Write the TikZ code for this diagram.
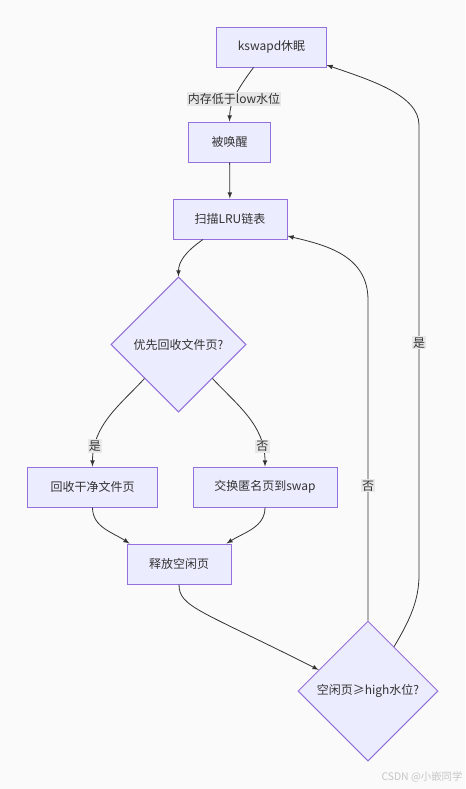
\documentclass[tikz,border=0pt]{standalone}
\usepackage{fontspec}
\setmainfont{Noto Sans CJK SC}
\tikzset{>=latex}
\usetikzlibrary{positioning,shapes.geometric,calc}
\definecolor{boxfill}{HTML}{ECECFF}
\definecolor{boxline}{HTML}{9370DB}
\definecolor{edgeline}{HTML}{333333}
\definecolor{lblfill}{HTML}{E8E8E8}
\definecolor{bgcol}{HTML}{FAFAFA}

\begin{document}
\begin{tikzpicture}[x=0.75pt, y=-0.75pt, font=\fontsize{9}{11}\selectfont, text=edgeline,
    box/.style={draw=boxline, fill=boxfill, rectangle, minimum height=30pt, line width=0.75pt},
    dia/.style={draw=boxline, fill=boxfill, diamond, aspect=1, inner sep=0pt, line width=0.75pt},
    link/.style={->, draw=edgeline, line width=0.6pt},
    lbl/.style={fill=lblfill, inner sep=1pt}]
      \fill[bgcol] (0,0) rectangle (465,789);
      \useasboundingbox (0,0) rectangle (465,789);
      \node[box, minimum width=81.8pt] (n0) at (271.5,47) {kswapd休眠};
      \node[box, minimum width=60.8pt] (n1) at (229.5,142) {被唤醒};
      \node[box, minimum width=85.5pt] (n2) at (230,219) {扫描LRU链表};
      \node[dia, minimum size=101.3pt] (n3) at (178.5,344.5) {优先回收文件页?};
      \node[box, minimum width=96.8pt] (n4) at (92.5,487) {回收干净文件页};
      \node[box, minimum width=108pt] (n5) at (265,487) {交换匿名页到swap};
      \node[box, minimum width=78pt] (n6) at (179,564) {释放空闲页};
      \node[dia, minimum size=105pt] (n7) at (368,691) {空闲页≥high水位?};
      \node[text=gray!45, font=\fontsize{7.8}{9}\selectfont] (wm) at (422,777) {CSDN @小嵌同学};
      \draw[link] ($(n0.south)+(-18,0)$) .. controls (233,95) and (230,105) .. node[lbl, pos=0.5]{内存低于low水位} (n1.north);
      \draw[link] (n1) -- (n2);
      \draw[link] ($(n2.south)+(-27,0)$) .. controls (185,252) and (178.5,262) .. (n3.north);
      \draw[link] (n3.south west) .. controls (120,405) and (92.5,425) .. node[lbl, pos=0.82]{是} (n4.north);
      \draw[link] (n3.south east) .. controls (237,405) and (265,425) .. node[lbl, pos=0.82]{否} (n5.north);
      \draw[link] (n4.south) .. controls (92.5,527) and (112,532) .. ($(n6.north west)+(3,0)$);
      \draw[link] (n5.south) .. controls (265,527) and (245,532) .. ($(n6.north east)+(-5,0)$);
      \draw[link] (n6.south) .. controls (179,607) and (200,610) .. ($(n7.west)!0.3!(n7.north)$);
      \draw[link] (n7.north) -- node[lbl, pos=0.42]{否} (368,300) .. controls (368,255) and (325,245) .. ($(n2.east)+(0,17)$);
      \draw[link] ($(n7.north)!0.37!(n7.east)$) .. controls (410,620) and (419,600) .. (419,575) -- node[lbl, pos=0.516]{是} (419,125) .. controls (419,95) and (370,80) .. ($(n0.east)+(0,18)$);
    \end{tikzpicture}
\end{document}
